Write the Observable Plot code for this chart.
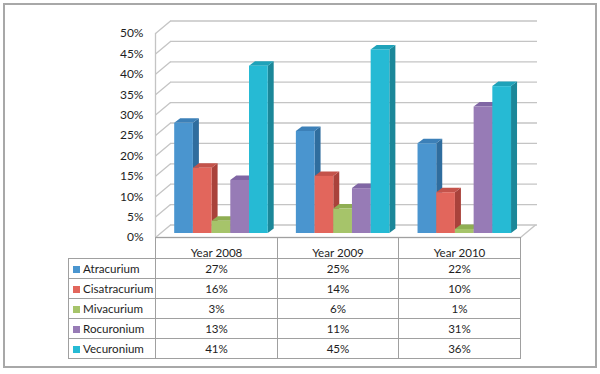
<!DOCTYPE html>
<html>
<head>
<meta charset="utf-8">
<script src="https://cdn.jsdelivr.net/npm/d3@7"></script>
<script src="https://cdn.jsdelivr.net/npm/@observablehq/plot@0.6"></script>
<style>
  html, body { margin: 0; padding: 0; background: #fff; }
  body { width: 600px; height: 374px; position: relative; overflow: hidden; font-family: Lato, "Open Sans", sans-serif; }
  #frame { position: absolute; left: 3px; top: 3px; width: 590px; height: 361px; border: 2px solid #a8a8a8; box-sizing: content-box; }
  #chart { position: absolute; left: 0; top: 0; }
  #tbl { position: absolute; left: 68px; top: 237px; border-collapse: collapse; table-layout: fixed; font-size: 11.6px; color: #1e1e1e; }
  #tbl tr { height: 20px; }
  #tbl tr.head { height: 21px; }
  #tbl td { border: 1px solid #a0a0a0; padding: 0; text-align: center; line-height: 14px; white-space: nowrap; vertical-align: middle; }
  #tbl tr.head td { vertical-align: bottom; line-height: 11px; padding-bottom: 0; }
  #tbl td.blank { border: none; }
  #tbl td.lab { text-align: left; padding-left: 4px; }
  .sw { display: inline-block; width: 7px; height: 7px; margin-right: 3px; vertical-align: 0px; }
</style>
</head>
<body>
<div id="frame"></div>
<div id="chart"></div>
<table id="tbl"></table>
<script>
// ---- data ----
const years = ["Year 2008", "Year 2009", "Year 2010"];
const drugs = ["Atracurium", "Cisatracurium", "Mivacurium", "Rocuronium", "Vecuronium"];
const atracurium = [27, 25, 22];
const cisatracurium = [16, 14, 10];
const mivacurium = [3, 6, 1];
const rocuronium = [13, 11, 31];
const vecuronium = [41, 45, 36];
const yTicks = [0, 5, 10, 15, 20, 25, 30, 35, 40, 45, 50];

// ---- styles ----
const frontColors = ["#4a95cf", "#e2665c", "#a6c46a", "#977bb6", "#26bad4"];
const sideColors  = ["#2f6d9e", "#a9423b", "#7d9640", "#6c5590", "#1b8799"];
const topColors   = ["#3c80b8", "#c4534b", "#8fae53", "#8066a4", "#1fa2b9"];
const gridColor = "#c4c4c4";

const series = [atracurium, cisatracurium, mivacurium, rocuronium, vecuronium];

// scale geometry
const xRange = [155, 520], yRange = [237, 33];
const xDomain = [0, years.length], yDomain = [0, 50];
const xu = (xRange[1] - xRange[0]) / (xDomain[1] - xDomain[0]); // px per x unit
const yu = (yRange[0] - yRange[1]) / (yDomain[1] - yDomain[0]); // px per y unit
const wallDX = 15, wallDY = 12.5;        // depth of floor / walls in px
const barDX = 5, barDY = -4;             // bar plane offset in px
const sideDX = 6, sideDY = 4.5;          // bar depth in px
const bw = 18.7 / xu, pad = 14.2 / xu;

const bars = [];
years.forEach((yr, i) => {
  drugs.forEach((dg, j) => {
    const v = series[j][i];
    const x1 = i + pad + j * bw, x2 = x1 + bw;
    bars.push({id: i + "-" + j, i, j, v, x1, x2});
  });
});
const sides = bars.flatMap(b => [
  {id: b.id, x: b.x2, y1: 0, y2: b.v, c: sideColors[b.j]},
  {id: b.id, x: b.x2 + sideDX / xu, y1: sideDY / yu, y2: b.v + sideDY / yu, c: sideColors[b.j]}
]);
const tops = bars.flatMap(b => [
  {id: b.id, y: b.v, x1: b.x1, x2: b.x2, c: topColors[b.j]},
  {id: b.id, y: b.v + sideDY / yu, x1: b.x1 + sideDX / xu, x2: b.x2 + sideDX / xu, c: topColors[b.j]}
]);

const chart = Plot.plot({
  width: 600,
  height: 240,
  margin: 0,
  style: {background: "transparent", fontFamily: "Lato, 'Open Sans', sans-serif", overflow: "visible"},
  x: {domain: xDomain, range: xRange, axis: null},
  y: {domain: yDomain, range: yRange, axis: null},
  color: {type: "identity"},
  marks: [
    // back wall gridlines
    Plot.ruleY(yTicks, {y: d => d, x1: xDomain[0], x2: xDomain[1] + 2 / xu, dx: wallDX, dy: -wallDY, stroke: gridColor, strokeWidth: 1.3}),
    // left wall diagonals
    Plot.link(yTicks, {x1: xDomain[0], y1: d => d, x2: xDomain[0] + wallDX / xu, y2: d => d + wallDY / yu, stroke: gridColor, strokeWidth: 1.3}),
    // left wall front edge
    Plot.ruleX([xDomain[0]], {y1: yDomain[0], y2: yDomain[1], stroke: gridColor, strokeWidth: 1.3}),
    // floor front + right edges
    Plot.ruleY([0], {x1: xDomain[0], x2: xDomain[1], stroke: gridColor, strokeWidth: 1.3}),
    Plot.link([0], {x1: xDomain[1], y1: 0, x2: xDomain[1] + wallDX / xu, y2: wallDY / yu, stroke: gridColor, strokeWidth: 1.3}),
    // y labels
    Plot.text(yTicks, {x: xDomain[0], y: d => d, text: d => d + "%", textAnchor: "end", dx: -12, fontSize: 12, fill: "#1e1e1e"}),
    // bars: sides, tops, fronts
    Plot.area(sides, {x1: "x", y1: "y1", y2: "y2", z: "id", fill: "c", curve: "linear", dx: barDX, dy: barDY}),
    Plot.area(tops, {x1: "x1", x2: "x2", y1: "y", z: "id", fill: "c", curve: "linear", dx: barDX, dy: barDY}),
    Plot.rect(bars, {x1: "x1", x2: "x2", y1: 0, y2: "v", fill: d => frontColors[d.j], dx: barDX, dy: barDY})
  ]
});
document.getElementById("chart").appendChild(chart);

// ---- data table ----
const tbl = document.getElementById("tbl");
const colW = [87, 122, 121, 122];
const cg = document.createElement("colgroup");
colW.forEach(w => { const c = document.createElement("col"); c.style.width = w + "px"; cg.appendChild(c); });
tbl.appendChild(cg);
const head = document.createElement("tr");
head.className = "head";
head.innerHTML = '<td class="blank"></td>' + years.map(y => `<td>${y}</td>`).join("");
tbl.appendChild(head);
drugs.forEach((dg, j) => {
  const tr = document.createElement("tr");
  tr.innerHTML = `<td class="lab"><span class="sw" style="background:${frontColors[j]}"></span>${dg}</td>` +
    series[j].map(v => `<td>${v}%</td>`).join("");
  tbl.appendChild(tr);
});
</script>
</body>
</html>
